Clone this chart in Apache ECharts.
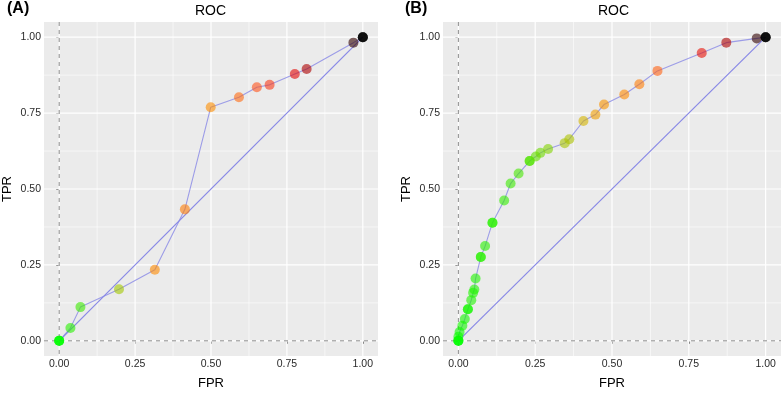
<!DOCTYPE html>
<html>
<head>
<meta charset="utf-8">
<script src="https://cdn.jsdelivr.net/npm/echarts@6/dist/echarts.min.js"></script>
<style>html,body{margin:0;padding:0;background:#fff}#c{width:784px;height:395px}</style>
</head>
<body>
<div id="c"></div>
<script>
// ---- data ----
var tickValues = [0, 0.25, 0.5, 0.75, 1];
var minorValues = [0.125, 0.375, 0.625, 0.875];
var refValues = [0];

// Panel A: ROC points (FPR, TPR) and threshold-colour value (estimated from point colours)
var fprA = [0, 0, 0, 0.037, 0.070, 0.197, 0.315, 0.414, 0.499, 0.592, 0.651, 0.693, 0.776, 0.815, 0.969, 1, 1, 1];
var tprA = [0, 0, 0, 0.042, 0.111, 0.170, 0.234, 0.433, 0.769, 0.802, 0.835, 0.843, 0.879, 0.895, 0.982, 1, 1, 1];
var thrA = [0, 0, 0, 0.04, 0.06, 0.18, 0.43, 0.46, 0.42, 0.50, 0.55, 0.60, 0.70, 0.80, 0.95, 1, 1, 1];
var diagFprA = [0, 1];
var diagTprA = [0, 1];

// Panel B
var fprB = [0, 0, 0, 0, 0.004, 0.013, 0.021, 0.031, 0.031, 0.042, 0.048, 0.052, 0.056, 0.073, 0.073, 0.087, 0.111, 0.111, 0.149, 0.170, 0.196, 0.232, 0.232, 0.252, 0.267, 0.292, 0.346, 0.361, 0.407, 0.446, 0.474, 0.540, 0.589, 0.648, 0.792, 0.872, 0.971, 1, 1, 1];
var tprB = [0, 0, 0, 0.013, 0.029, 0.050, 0.072, 0.104, 0.104, 0.134, 0.158, 0.169, 0.205, 0.276, 0.276, 0.312, 0.389, 0.389, 0.462, 0.518, 0.551, 0.592, 0.592, 0.607, 0.619, 0.632, 0.651, 0.664, 0.724, 0.745, 0.778, 0.811, 0.845, 0.889, 0.948, 0.982, 0.996, 1, 1, 1];
var thrB = [0, 0, 0, 0.01, 0.01, 0.02, 0.02, 0.02, 0.02, 0.03, 0.03, 0.03, 0.03, 0.04, 0.04, 0.04, 0.04, 0.04, 0.05, 0.06, 0.07, 0.08, 0.08, 0.10, 0.11, 0.13, 0.19, 0.20, 0.27, 0.36, 0.40, 0.43, 0.46, 0.52, 0.68, 0.80, 0.95, 1, 1, 1];
var diagFprB = [0, 1];
var diagTprB = [0, 1];

var panelTitles = ['ROC', 'ROC'];
var panelTags = ['(A)', '(B)'];

// ---- build ----
function zip(a, b, c) { return a.map(function (v, i) { return c ? [v, b[i], c[i]] : [v, b[i]]; }); }
var palette = ['#00ff00', '#8fd000', '#dcb000', '#ff8c00', '#ff4a20', '#e00000', '#8b0000', '#000000'];

var chart = echarts.init(document.getElementById('c'), null, { renderer: 'canvas' });
var fontFam = 'Liberation Sans, Arial, sans-serif';
var grids = [
  { left: 40, top: 22, width: 338, height: 340 },
  { left: 443, top: 22, width: 338, height: 340 }
];

function axisCommon(name, gap) {
  return {
    type: 'value', min: -0.05, max: 1.05,
    name: name, nameLocation: 'middle', nameGap: gap,
    nameTextStyle: { fontFamily: fontFam, fontSize: 13, color: '#000' },
    axisLine: { show: false },
    axisTick: { show: true, length: 3, customValues: tickValues, lineStyle: { color: '#333', width: 1 } },
    axisLabel: { customValues: tickValues, fontFamily: fontFam, fontSize: 10.5, color: '#2a2a2a', margin: 3,
      formatter: function (v) { return v.toFixed(2); } },
    splitLine: { show: false }
  };
}

function gridRenderer(stroke, width, dash) {
  return function (params, api) {
    var v = api.value(0);
    var cs = params.coordSys;
    var p = api.coord([v, v]);
    var st = { stroke: stroke, lineWidth: width, lineDash: dash || null, fill: null };
    return { type: 'group', children: [
      { type: 'line', shape: { x1: p[0], y1: cs.y, x2: p[0], y2: cs.y + cs.height }, style: st },
      { type: 'line', shape: { x1: cs.x, y1: p[1], x2: cs.x + cs.width, y2: p[1] }, style: st }
    ] };
  };
}

var series = [];
[0, 1].forEach(function (g) {
  var fpr = g ? fprB : fprA, tpr = g ? tprB : tprA, thr = g ? thrB : thrA;
  var dF = g ? diagFprB : diagFprA, dT = g ? diagTprB : diagTprA;
  series.push({ type: 'custom', xAxisIndex: g, yAxisIndex: g, z: 1, silent: true, clip: false,
    data: minorValues.map(function (v) { return [v]; }), renderItem: gridRenderer('#ffffff', 0.6) });
  series.push({ type: 'custom', xAxisIndex: g, yAxisIndex: g, z: 1, silent: true, clip: false,
    data: tickValues.map(function (v) { return [v]; }), renderItem: gridRenderer('#ffffff', 1.2) });
  series.push({ type: 'custom', xAxisIndex: g, yAxisIndex: g, z: 2, silent: true, clip: false,
    data: refValues.map(function (v) { return [v]; }), renderItem: gridRenderer('#8c8c8c', 1, [4, 4]) });
  series.push({
    type: 'line', xAxisIndex: g, yAxisIndex: g, data: zip(dF, dT), z: 3, showSymbol: false, symbol: 'none',
    lineStyle: { color: '#8888e6', width: 1.2 }, silent: true
  });
  series.push({
    type: 'line', xAxisIndex: g, yAxisIndex: g, data: zip(fpr, tpr), z: 3, showSymbol: false, symbol: 'none',
    lineStyle: { color: '#8888e6', width: 1.1, opacity: 0.8 }, silent: true
  });
  series.push({
    type: 'scatter', xAxisIndex: g, yAxisIndex: g, data: zip(fpr, tpr, thr), z: 4,
    symbolSize: 10, silent: true,
    itemStyle: { opacity: 0.6, color: function (p) { return echarts.color.lerp(p.value[2], palette); } }
  });
});

var graphics = [];
[0, 1].forEach(function (g) {
  graphics.push({ type: 'text', left: grids[g].left + grids[g].width / 2 - 14, top: 4,
    style: { text: panelTitles[g], font: '14px ' + fontFam, fill: '#000' } });
});
graphics.push({ type: 'text', left: 7, top: 1, style: { text: panelTags[0], font: 'bold 16px ' + fontFam, fill: '#000' } });
graphics.push({ type: 'text', left: 405, top: 1, style: { text: panelTags[1], font: 'bold 16px ' + fontFam, fill: '#000' } });

chart.setOption({
  animation: false,
  backgroundColor: '#fff',
  grid: grids.map(function (gr) { return Object.assign({ show: true, backgroundColor: '#ebebeb', borderWidth: 0 }, gr); }),
  xAxis: [Object.assign(axisCommon('FPR', 21), { gridIndex: 0 }), Object.assign(axisCommon('FPR', 21), { gridIndex: 1 })],
  yAxis: [Object.assign(axisCommon('TPR', 30), { gridIndex: 0 }), Object.assign(axisCommon('TPR', 30), { gridIndex: 1 })],
  series: series,
  graphic: graphics
});
</script>
</body>
</html>
